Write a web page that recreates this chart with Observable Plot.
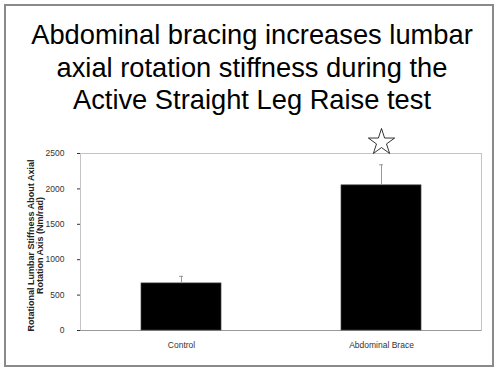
<!DOCTYPE html>
<html>
<head>
<meta charset="utf-8">
<script src="https://cdn.jsdelivr.net/npm/d3@7"></script>
<script src="https://cdn.jsdelivr.net/npm/@observablehq/plot@0.6"></script>
<style>
  html, body { margin: 0; padding: 0; background: #fff; }
  body { width: 499px; height: 377px; position: relative; overflow: hidden; font-family: Arial, "Liberation Sans", sans-serif; }
  #frame { position: absolute; left: 4px; top: 4px; width: 490px; height: 363px; box-sizing: border-box; border: 2px solid #8a8a8a; }
  #title { position: absolute; left: 0; top: 19px; width: 504px; text-align: center; font-size: 27.3px; line-height: 32.5px; color: #000; }
  #chart { position: absolute; left: 0; top: 120px; }
</style>
</head>
<body>
<div id="frame"></div>
<div id="title">Abdominal bracing increases lumbar<br>axial rotation stiffness during the<br>Active Straight Leg Raise test</div>
<div id="chart"></div>
<script>
const categories = ["Control", "Abdominal Brace"];
const stiffness = [665, 2050];
const errors = [100, 290];
const significant = ["Abdominal Brace"];
const yTicks = [0, 500, 1000, 1500, 2000, 2500];
const yLabel = "Rotational Lumbar Stiffness About Axial\nRotation Axis (Nm/rad)";

const data = categories.map((c, i) => ({cat: c, val: stiffness[i], err: errors[i]}));

const plot = Plot.plot({
  width: 499,
  height: 240,
  marginLeft: 80,
  marginRight: 18,
  marginTop: 33,
  marginBottom: 30,
  style: {fontFamily: "Arial, 'Liberation Sans', sans-serif", fontSize: "8.5px", color: "#333", background: "transparent", overflow: "visible"},
  x: {domain: categories, paddingInner: 0.6, paddingOuter: 0.3, tickSize: 0, tickPadding: 11, label: null},
  y: {domain: [0, 2500], ticks: yTicks, tickFormat: d => String(d), tickSize: 3, tickPadding: 13, label: null},
  marks: [
    Plot.frame({stroke: "#c4c4c4"}),
    Plot.ruleY([0], {stroke: "#999"}),
    Plot.barY(data, {x: "cat", y: "val", fill: "black", stroke: "#444", strokeWidth: 0.7}),
    Plot.ruleX(data, {x: "cat", y1: "val", y2: d => d.val + d.err, stroke: "#999", strokeWidth: 1}),
    Plot.tickY(data, {x: "cat", y: d => d.val + d.err, stroke: "#999", insetLeft: 38, insetRight: 38}),
    Plot.dot(significant, {x: d => d, frameAnchor: "top", symbol: "star", r: 8.25, fill: "white", stroke: "black", strokeWidth: 0.8, dy: -11.2}),
    Plot.text([yLabel], {text: d => d, frameAnchor: "left", textAnchor: "middle", rotate: -90, dx: -45, dy: 3.5, fontWeight: "bold", fontSize: "9px", lineHeight: 1.0, fill: "#222"})
  ]
});
document.getElementById("chart").appendChild(plot);
</script>
</body>
</html>
